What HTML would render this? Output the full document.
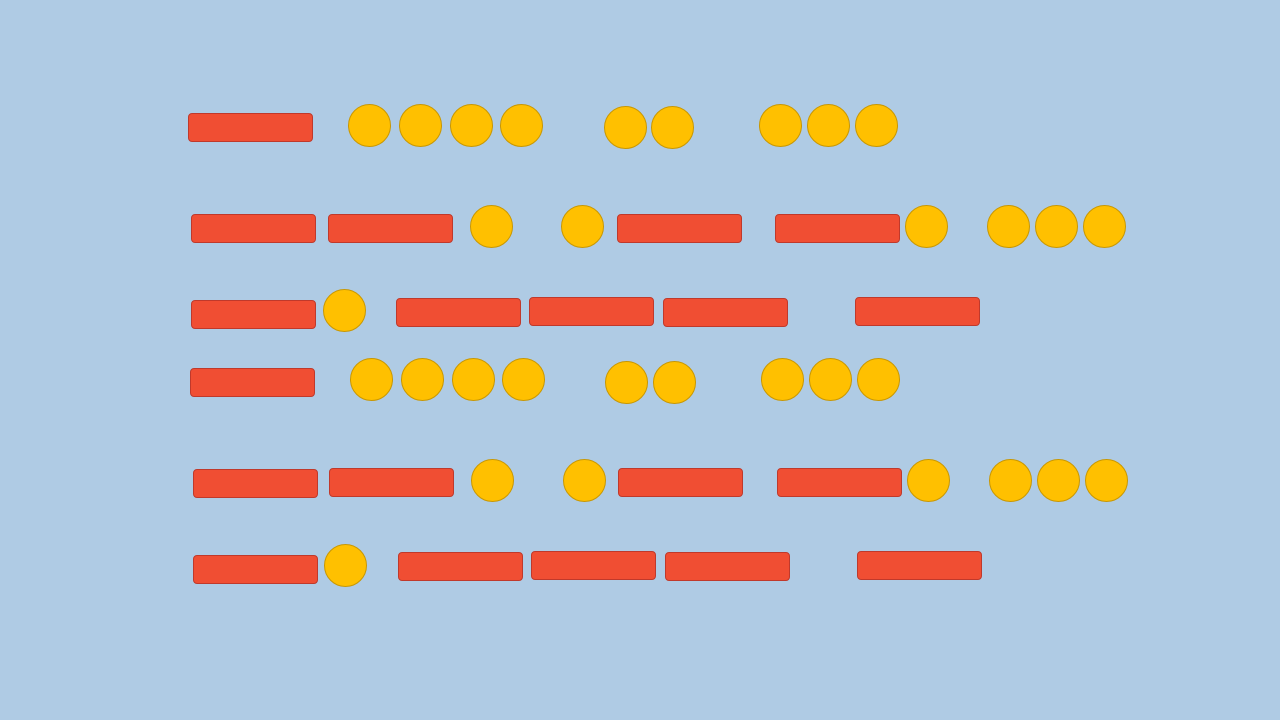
<!DOCTYPE html>
<html><head><meta charset="utf-8"><style>
html,body{margin:0;padding:0}
body{width:1280px;height:720px;background:#AFCBE4;position:relative;overflow:hidden}
.bar{position:absolute;width:123px;height:27px;background:#F04E33;border:1px solid #C0392B;border-radius:4px}
.dot{position:absolute;width:41px;height:41px;background:#FFC000;border:1px solid #C99700;border-radius:50%}
</style></head><body>
<script>
const barX=[188,191,328,617,775,191,396,529,663,855,190,193,329,618,777,193,398,531,665,857];
const barY=[113,214,214,214,214,300,298,297,298,297,368,469,468,468,468,555,552,551,552,551];
const dotX=[369,420,471,521,625,672,780,828,876,491,582,926,1008,1056,1104,344,371,422,473,523,626,674,782,830,878,492,584,928,1010,1058,1106,345];
const dotY=[125,125,125,125,127,127,125,125,125,226,226,226,226,226,226,310,379,379,379,379,382,382,379,379,379,480,480,480,480,480,480,565];
for(let i=0;i<barX.length;i++){
  if(i===10){}
  const el=document.createElement('div');
  el.className='bar';
  el.style.left=barX[i]+'px';el.style.top=barY[i]+'px';
  
  
  document.body.appendChild(el);
}
for(let i=0;i<dotX.length;i++){
  const el=document.createElement('div');
  el.className='dot';
  el.style.left=(dotX[i]-21)+'px';el.style.top=(dotY[i]-21)+'px';
  
  
  document.body.appendChild(el);
}
</script>
</body></html>
